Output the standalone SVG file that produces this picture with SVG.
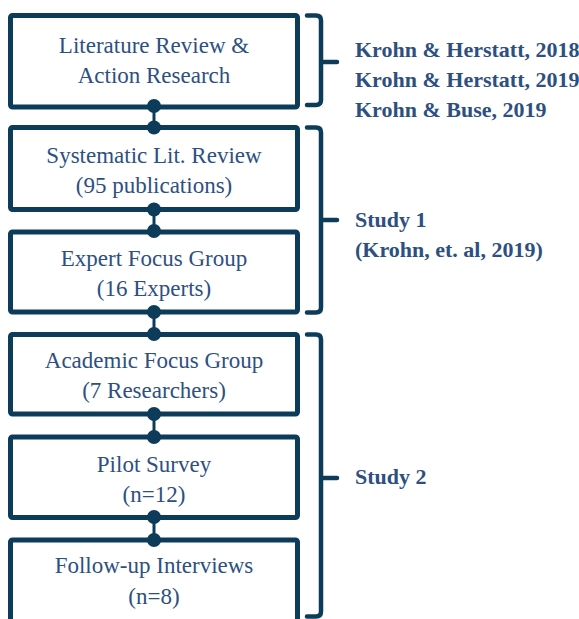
<svg xmlns="http://www.w3.org/2000/svg" width="579" height="619" viewBox="0 0 579 619">
<style>
.box{fill:#fff;stroke:#0d3c5b;stroke-width:5}
.br{fill:none;stroke:#0d3c5b;stroke-width:4.5;stroke-linecap:round;stroke-linejoin:round}
.t{font-family:"Liberation Serif",serif;font-size:23px;fill:#2d5081;text-anchor:middle}
.b{font-family:"Liberation Serif",serif;font-size:22px;font-weight:bold;fill:#2d5081}
.dot{fill:#0d3c5b}
.ln{stroke:#0d3c5b;stroke-width:3}
</style>
<rect width="579" height="619" fill="#fff"/>
<g id="n1"><rect class="box" x="10.5" y="15.5" width="287" height="91.5" rx="2"/><text class="t" x="154" y="53">Literature Review &amp;</text><text class="t" x="154" y="83">Action Research</text></g>
<g id="n2"><rect class="box" x="10.5" y="127.5" width="287" height="82" rx="2"/><text class="t" x="154" y="163">Systematic Lit. Review</text><text class="t" x="154" y="193">(95 publications)</text></g>
<g id="n3"><rect class="box" x="10.5" y="232" width="287" height="80" rx="2"/><text class="t" x="154" y="266">Expert Focus Group</text><text class="t" x="154" y="296">(16 Experts)</text></g>
<g id="n4"><rect class="box" x="10.5" y="334.5" width="287" height="79.5" rx="2"/><text class="t" x="154" y="368">Academic Focus Group</text><text class="t" x="154" y="398">(7 Researchers)</text></g>
<g id="n5"><rect class="box" x="10.5" y="437" width="287" height="80.5" rx="2"/><text class="t" x="154" y="471.5">Pilot Survey</text><text class="t" x="154" y="501.5">(n=12)</text></g>
<g id="n6"><rect class="box" x="10.5" y="540" width="287" height="95" rx="2"/><text class="t" x="154" y="573">Follow-up Interviews</text><text class="t" x="154" y="603.5">(n=8)</text></g>
<g id="connectors">
<line class="ln" x1="154" y1="107" x2="154" y2="127.5"/><circle class="dot" cx="154" cy="106" r="7"/><circle class="dot" cx="154" cy="127.5" r="7"/>
<line class="ln" x1="154" y1="209.5" x2="154" y2="232"/><circle class="dot" cx="154" cy="209.5" r="7"/><circle class="dot" cx="154" cy="231" r="7"/>
<line class="ln" x1="154" y1="312" x2="154" y2="334.5"/><circle class="dot" cx="154" cy="312" r="7"/><circle class="dot" cx="154" cy="334" r="7"/>
<line class="ln" x1="154" y1="414" x2="154" y2="437"/><circle class="dot" cx="154" cy="414" r="7"/><circle class="dot" cx="154" cy="437" r="7"/>
<line class="ln" x1="154" y1="517.5" x2="154" y2="540"/><circle class="dot" cx="154" cy="517" r="7"/><circle class="dot" cx="154" cy="540" r="7"/>
</g>
<g id="brackets">
<path class="br" d="M307,15.5 H316 Q321,15.5 321,20.5 V100 Q321,105 316,105 H307 M321,62 H337"/>
<path class="br" d="M307,127.5 H316 Q321,127.5 321,132.5 V307.5 Q321,312.5 316,312.5 H307 M321,220 H337"/>
<path class="br" d="M307,334.5 H316 Q321,334.5 321,339.5 V611.5 Q321,616.5 316,616.5 H307 M321,478 H337"/>
</g>
<g id="labels">
<text class="b" x="355" y="57">Krohn &amp; Herstatt, 2018</text>
<text class="b" x="355" y="87">Krohn &amp; Herstatt, 2019</text>
<text class="b" x="355" y="117">Krohn &amp; Buse, 2019</text>
<text class="b" x="355" y="227">Study 1</text>
<text class="b" x="355" y="257">(Krohn, et. al, 2019)</text>
<text class="b" x="355" y="484">Study 2</text>
</g>
</svg>
